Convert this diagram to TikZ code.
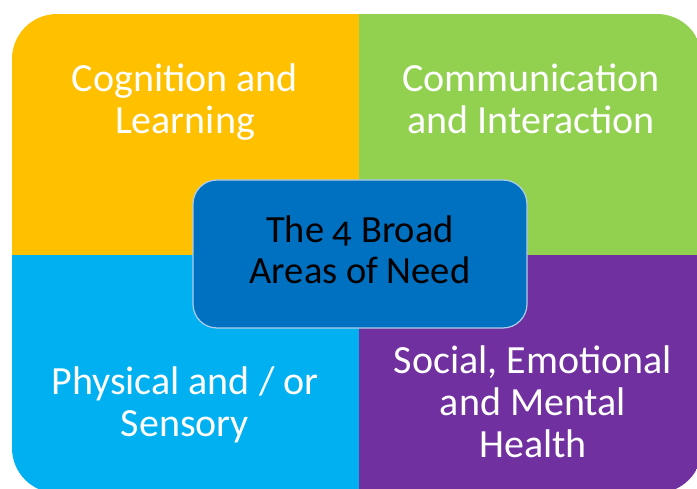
\documentclass[tikz,border=0pt]{standalone}
\usepackage{fontspec}
\setmainfont{Carlito}[Numbers=OldStyle]
\definecolor{needorange}{RGB}{255,192,0}
\definecolor{needgreen}{RGB}{146,208,80}
\definecolor{needcyan}{RGB}{0,176,240}
\definecolor{needpurple}{RGB}{112,48,160}
\definecolor{needblue}{RGB}{0,112,192}
\definecolor{needrim}{RGB}{175,205,235}
\tikzset{
  areatext/.style={text=white, align=center, font=\fontsize{40}{42}\selectfont},
  hubtext/.style={text=black, align=center, font=\fontsize{38.5}{41}\selectfont}
}
\begin{document}
\begin{tikzpicture}[x=1pt,y=-1pt]
\useasboundingbox (0,0) rectangle (697,489);
% four quadrants inside one rounded frame
\begin{scope}
\clip [rounded corners=45pt] (12,14) rectangle (702,493);
\fill [needorange] (12,14) rectangle (359,255);
\fill [needgreen] (359,14) rectangle (702,255);
\fill [needcyan] (12,255) rectangle (359,493);
\fill [needpurple] (359,255) rectangle (702,493);
\end{scope}
% centre box
\draw [needrim, fill=needblue, line width=1.2pt, rounded corners=24pt]
  (193,180) rectangle (527,328);
\node (hub) [hubtext] at (360,250) {The 4 Broad\\Areas of Need};
\node (cognition) [areatext] at (185,102) {Cognition and\\Learning};
\node (communication) [areatext] at (531,99) {Communication\\and Interaction};
\node (physical) [areatext] at (185,405) {Physical and / or\\Sensory};
\node (social) [areatext] at (533,402) {Social, Emotional\\and Mental\\Health};
\end{tikzpicture}
\end{document}
